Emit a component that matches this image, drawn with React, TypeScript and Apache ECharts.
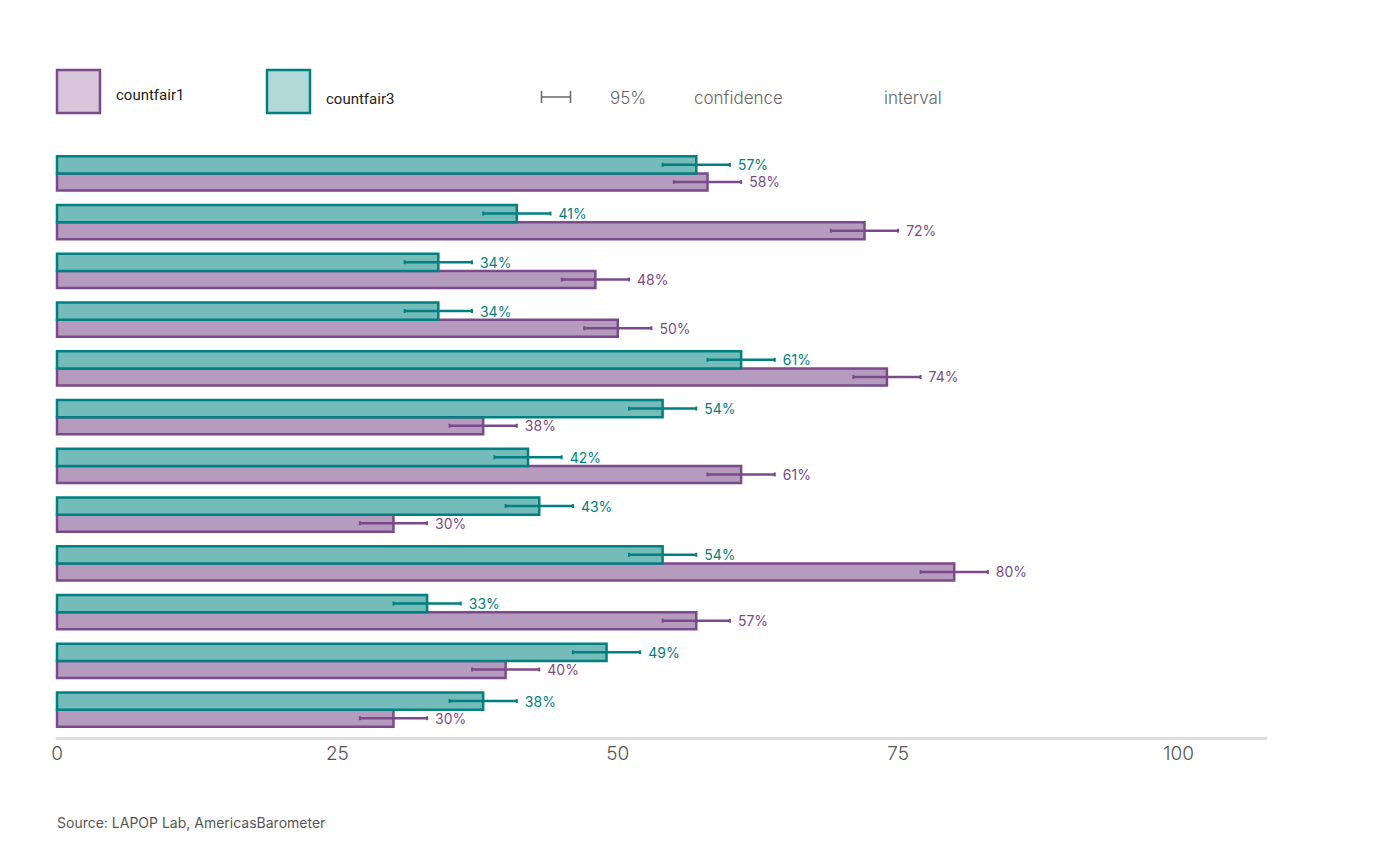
import React, { useEffect, useRef } from "react";
import * as echarts from "echarts";

const categories = ["1", "2", "3", "4", "5", "6", "7", "8", "9", "10", "11", "12"];
const countfair3 = [57, 41, 34, 34, 61, 54, 42, 43, 54, 33, 49, 38];
const countfair3Low = [54, 38, 31, 31, 58, 51, 39, 40, 51, 30, 46, 35];
const countfair3High = [60, 44, 37, 37, 64, 57, 45, 46, 57, 36, 52, 41];
const countfair1 = [58, 72, 48, 50, 74, 38, 61, 30, 80, 57, 40, 30];
const countfair1Low = [55, 69, 45, 47, 71, 35, 58, 27, 77, 54, 37, 27];
const countfair1High = [61, 75, 51, 53, 77, 41, 64, 33, 83, 60, 43, 33];
const xTicks = [0, 25, 50, 75, 100];

const PURPLE = "#7B4A8B";
const PURPLE_FILL = "#B59BBD";
const PURPLE_LIGHT = "#D7C6DA";
const TEAL = "#008080";
const TEAL_FILL = "#74BBB9";
const TEAL_LIGHT = "#B0D9D7";

function makeSeries(name: string, values: number[], low: number[], high: number[], color: string, fill: string, top: boolean) {
  return {
    type: "custom",
    name,
    data: values.map((v, i) => [v, i, low[i], high[i]]),
    encode: { x: [0, 2, 3], y: 1 },
    renderItem: (params: any, api: any) => {
      const v = api.value(0);
      const i = api.value(1);
      const lo = api.value(2);
      const hi = api.value(3);
      const p0 = api.coord([0, i]);
      const p1 = api.coord([v, i]);
      const band = api.size([0, 1])[1];
      const h = band * 0.352;
      const y0 = top ? p0[1] - h : p0[1];
      const cy = y0 + h / 2;
      const pl = api.coord([lo, i]);
      const ph = api.coord([hi, i]);
      return {
        type: "group",
        children: [
          {
            type: "rect",
            shape: { x: p0[0], y: y0, width: p1[0] - p0[0], height: h },
            style: { fill, stroke: color, lineWidth: 2.5 },
          },
          {
            type: "line",
            shape: { x1: pl[0], y1: cy, x2: ph[0], y2: cy },
            style: { stroke: color, lineWidth: 2.5 },
          },
          {
            type: "line",
            shape: { x1: pl[0], y1: cy - 2, x2: pl[0], y2: cy + 2 },
            style: { stroke: color, lineWidth: 2 },
          },
          {
            type: "line",
            shape: { x1: ph[0], y1: cy - 2, x2: ph[0], y2: cy + 2 },
            style: { stroke: color, lineWidth: 2 },
          },
          {
            type: "text",
            x: ph[0] + 8,
            y: cy,
            style: {
              text: v + "%",
              fill: color,
              fontSize: 14,
              fontFamily: "Inter",
              verticalAlign: "middle",
              align: "left",
            },
          },
        ],
      };
    },
  };
}

export default function App() {
  const ref = useRef<HTMLDivElement>(null);
  useEffect(() => {
    document.body.style.margin = "0";
    const chart = echarts.init(ref.current!, undefined, { renderer: "svg" });
    const legendText = { fontFamily: "Inter", fontSize: 17, fontWeight: 300, fill: "#666" };
    chart.setOption({
      animation: false,
      grid: { left: 57, top: 149, width: 1209, height: 585 },
      xAxis: {
        type: "value",
        min: 0,
        max: 107.8,
        interval: 25,
        offset: 4,
        axisLine: { show: true, lineStyle: { color: "#DDDDDD", width: 3 } },
        axisTick: { show: false },
        splitLine: { show: false },
        axisLabel: {
          color: "#555",
          fontSize: 19,
          fontWeight: 300,
          fontFamily: "Inter",
          margin: 6,
          formatter: (v: number) => (xTicks.includes(v) ? String(v) : ""),
        },
      },
      yAxis: {
        type: "category",
        data: categories,
        inverse: true,
        show: false,
      },
      series: [
        makeSeries("countfair1", countfair1, countfair1Low, countfair1High, PURPLE, PURPLE_FILL, false),
        makeSeries("countfair3", countfair3, countfair3Low, countfair3High, TEAL, TEAL_FILL, true),
      ],
      graphic: [
        { type: "rect", shape: { x: 57, y: 70, width: 43, height: 43 }, style: { fill: PURPLE_LIGHT, stroke: PURPLE, lineWidth: 2.5 } },
        { type: "text", x: 116, y: 95, style: { text: "countfair1", fontFamily: "Roboto", fontSize: 15, fill: "#222", verticalAlign: "middle" } },
        { type: "rect", shape: { x: 267, y: 70, width: 43, height: 43 }, style: { fill: TEAL_LIGHT, stroke: TEAL, lineWidth: 2.5 } },
        { type: "text", x: 326, y: 99, style: { text: "countfair3", fontFamily: "Roboto", fontSize: 15, fill: "#222", verticalAlign: "middle" } },
        { type: "line", shape: { x1: 541, y1: 97, x2: 571, y2: 97 }, style: { stroke: "#666", lineWidth: 1.5 } },
        { type: "line", shape: { x1: 541.5, y1: 91, x2: 541.5, y2: 103 }, style: { stroke: "#666", lineWidth: 1.5 } },
        { type: "line", shape: { x1: 570.5, y1: 91, x2: 570.5, y2: 103 }, style: { stroke: "#666", lineWidth: 1.5 } },
        { type: "text", x: 610, y: 98, style: { text: "95%", ...legendText, verticalAlign: "middle" } },
        { type: "text", x: 694, y: 98, style: { text: "confidence", ...legendText, verticalAlign: "middle" } },
        { type: "text", x: 884, y: 98, style: { text: "interval", ...legendText, verticalAlign: "middle" } },
        { type: "text", x: 57, y: 822, style: { text: "Source: LAPOP Lab, AmericasBarometer", fontFamily: "Inter", fontSize: 14, fill: "#555", verticalAlign: "middle" } },
      ],
    });
    return () => chart.dispose();
  }, []);
  return <div ref={ref} style={{ width: 1400, height: 866 }} />;
}
